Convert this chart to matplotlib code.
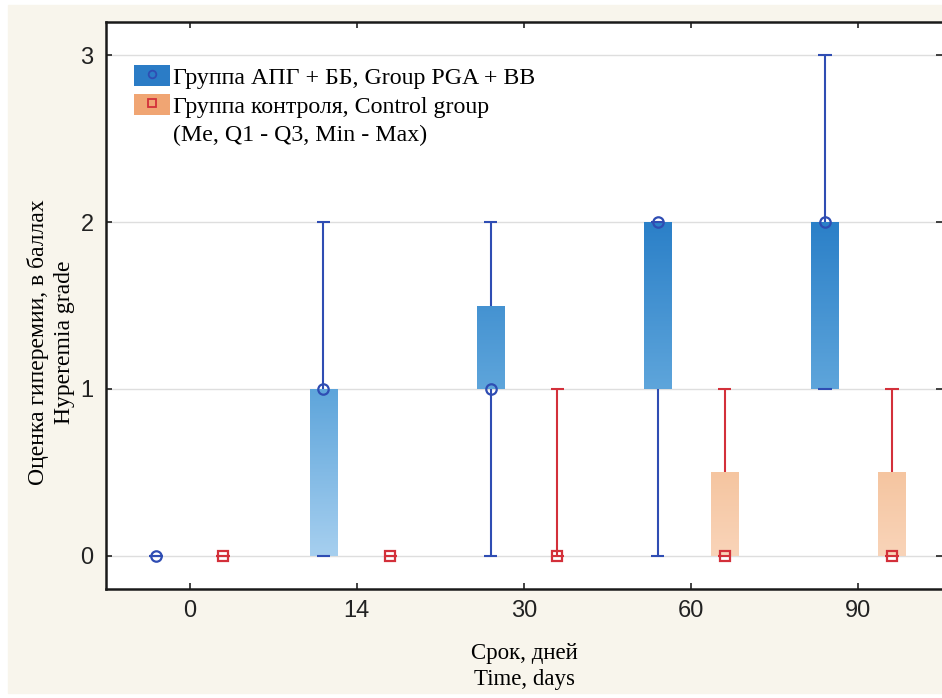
import numpy as np
import matplotlib
matplotlib.use("Agg")
import matplotlib.pyplot as plt
from matplotlib.colors import LinearSegmentedColormap
from matplotlib.patches import Patch, Rectangle
from matplotlib.lines import Line2D

# Data (Me, Q1-Q3, Min-Max)
days = ["0", "14", "30", "60", "90"]

pga_med = [0, 1, 1, 2, 2]
pga_q1 = [0, 0, 1, 1, 1]
pga_q3 = [0, 1, 1.5, 2, 2]
pga_min = [0, 0, 0, 0, 1]
pga_max = [0, 2, 2, 2, 3]

ctrl_med = [0, 0, 0, 0, 0]
ctrl_q1 = [0, 0, 0, 0, 0]
ctrl_q3 = [0, 0, 0, 0.5, 0.5]
ctrl_min = [0, 0, 0, 0, 0]
ctrl_max = [0, 0, 1, 1, 1]

tick_font = ["Liberation Sans", "DejaVu Sans"]
serif_font = ["Liberation Serif", "DejaVu Serif"]

fig = plt.figure(figsize=(9.42, 6.98), dpi=100, facecolor="white")
fig.patches.append(Rectangle((8 / 942, 5 / 698), 1, 1 - 10 / 698,
                             transform=fig.transFigure, color="#f8f5ec", zorder=-10))
ax = fig.add_axes([106 / 942, 1 - 589 / 698, 1 - 106 / 942, (589 - 22) / 698])

blue_cmap = LinearSegmentedColormap.from_list("b", ["#a6cfef", "#5ea5db", "#2b80c8"])
orange_cmap = LinearSegmentedColormap.from_list("o", ["#f9d4b9", "#f5c5a0"])

x = np.arange(len(days))
off = 0.2
bw = 0.165
cap = 0.08


def draw_group(xs, med, q1, q3, vmin, vmax, line_col, cmap, norm_max, marker, ms):
    for xi, m, a, b, lo, hi in zip(xs, med, q1, q3, vmin, vmax):
        if b > a:
            bar = ax.bar(xi, b - a, bottom=a, width=bw, color="none", linewidth=0, zorder=2)[0]
            grad = np.linspace(a, b, 100).reshape(-1, 1)
            im = ax.imshow(grad, extent=[xi - bw / 2, xi + bw / 2, a, b], origin="lower",
                           aspect="auto", cmap=cmap, vmin=0, vmax=norm_max, zorder=2)
            im.set_clip_path(bar)
        ax.vlines(xi, b, hi, color=line_col, lw=1.5, zorder=3)
        ax.vlines(xi, lo, a, color=line_col, lw=1.5, zorder=3)
        ax.hlines([lo, hi], xi - cap / 2, xi + cap / 2, color=line_col, lw=1.5, zorder=3)
        ax.plot(xi, m, marker=marker, ms=ms, mfc="none", mec=line_col, mew=1.6, zorder=4)


draw_group(x - off, pga_med, pga_q1, pga_q3, pga_min, pga_max,
           "#2f4db3", blue_cmap, 2, "o", 7.5)
draw_group(x + off, ctrl_med, ctrl_q1, ctrl_q3, ctrl_min, ctrl_max,
           "#d3303a", orange_cmap, 0.5, "s", 6.5)

ax.set_xlim(-0.5, 4.5)
ax.set_ylim(-0.2, 3.2)
ax.set_xticks(x)
ax.set_xticklabels(days, family=tick_font, fontsize=17)
ax.set_yticks([0, 1, 2, 3])
ax.set_yticklabels(["0", "1", "2", "3"], family=tick_font, fontsize=17)
ax.tick_params(direction="in", top=True, right=True, length=4, width=1.2, colors="#222222")
ax.tick_params(axis="x", pad=8)
ax.tick_params(axis="y", pad=9)
ax.yaxis.grid(True, color="#dedede", lw=1)
ax.set_axisbelow(True)
for s in ["top", "bottom", "left"]:
    ax.spines[s].set_linewidth(1.8)
    ax.spines[s].set_color("#1a1a1a")
ax.spines["right"].set_visible(False)

ax.set_xlabel("Срок, дней\nTime, days", family=serif_font, fontsize=16.5,
              labelpad=15, linespacing=1.3)
ax.set_ylabel("Оценка гиперемии, в баллах\nHyperemia grade", family=serif_font,
              fontsize=17, linespacing=1.3)
ax.yaxis.set_label_coords(-0.037, 0.436)

h1 = (Patch(facecolor="#2b7cc6", edgecolor="none"),
      Line2D([], [], ls="none", marker="o", ms=5.5, mfc="none", mec="#2f4db3", mew=1.3))
h2 = (Patch(facecolor="#f0a573", edgecolor="none"),
      Line2D([], [], ls="none", marker="s", ms=5.5, mfc="none", mec="#d3303a", mew=1.3))
h3 = Patch(facecolor="none", edgecolor="none")
ax.legend([h1, h2, h3],
          ["Группа АПГ + ББ, Group PGA + BB", "Группа контроля, Control group",
           "(Me, Q1 - Q3, Min - Max)"],
          loc="upper left", bbox_to_anchor=(0.008, 0.962), frameon=False,
          prop={"family": serif_font, "size": 17.2}, handlelength=1.5, handleheight=1.0,
          handletextpad=0.12, labelspacing=0.2)

fig.savefig("out.png", dpi=100, facecolor=fig.get_facecolor())
